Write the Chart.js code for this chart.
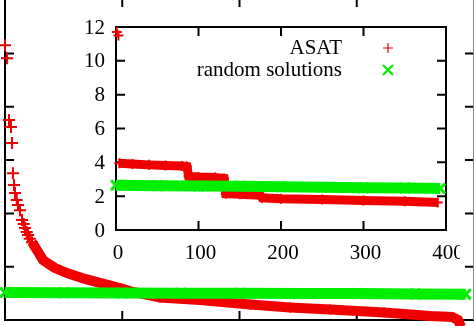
<!DOCTYPE html>
<html>
<head>
<meta charset="utf-8">
<title>ASAT vs random solutions</title>
<script src="https://cdn.jsdelivr.net/npm/chart.js@4.4.0/dist/chart.umd.min.js"></script>
<style>
  html, body { margin: 0; padding: 0; background: #fff; }
  #wrap { position: relative; width: 474px; height: 326px; overflow: hidden; }
  #outer { position: absolute; left: 0; top: -2px; }
  #inset { position: absolute; left: 60px; top: 10px; }
</style>
</head>
<body>
<div id="wrap">
  <canvas id="outer" width="474" height="328"></canvas>
  <canvas id="inset" width="400" height="260"></canvas>
</div>
<script>
(function () {
    'use strict';

    /* ── Full run (outer plot) ── */
    var outerAsatSparseX = [0, 17, 34, 51, 60, 68, 77, 85, 100, 111, 128, 145, 160, 171, 185, 196, 212, 230];
    var outerAsatSparseY = [10.31, 9.82, 7.5, 7.24, 6.64, 5.51, 5.06, 4.76, 4.5, 4.31, 4.12, 3.75,
                            3.6, 3.45, 3.3, 3.19, 3.05, 2.92];
    var outerAsatX = [230, 256, 290, 324, 380, 427, 529, 682, 810, 981, 1092, 1322,
                      1663, 2090, 2431, 2772, 3233, 3625, 3813, 3864, 3890];
    var outerAsatY = [2.92, 2.74, 2.5, 2.25, 2.08, 1.95, 1.76, 1.54, 1.39, 1.2, 1.05, 0.84,
                      0.75, 0.58, 0.47, 0.39, 0.28, 0.15, 0.11, 0.0, -0.26];
    var outerRandomX = [0, 500, 1000, 1500, 2000, 2500, 3000, 3500, 3930];
    var outerRandomY = [1.03, 1.02, 1.01, 1.0, 1.0, 0.99, 0.99, 0.98, 0.97];
    var outerXTicks = [1000, 2000, 3000];
    var outerYTicks = [2, 4, 6, 8, 10];

    /* ── First 400 solutions (inset) ── */
    var insetAsatTopX = [1, 3];
    var insetAsatTopY = [11.7, 11.5];
    var insetAsatX = [4, 20, 40, 60, 80, 86, 88, 100, 120, 131, 133, 150, 175,
                      177, 200, 250, 300, 350, 390];
    var insetAsatY = [3.95, 3.9, 3.85, 3.82, 3.78, 3.75, 3.18, 3.13, 3.1, 3.05, 2.15, 2.12, 2.05,
                      1.9, 1.85, 1.8, 1.75, 1.7, 1.63];
    var insetRandomX = [0, 50, 100, 150, 200, 250, 300, 350, 393];
    var insetRandomY = [2.65, 2.62, 2.6, 2.58, 2.56, 2.53, 2.5, 2.48, 2.45];
    var insetXTicks = [0, 100, 200, 300, 400];
    var insetYTicks = [0, 2, 4, 6, 8, 10, 12];

    var seriesNames = ['ASAT', 'random solutions'];

    var colours = {
        red:   '#f00000',
        green: '#00ee00',
        axis:  '#000'
    };
    var font = '21px "Liberation Serif", "Times New Roman", serif';

    function points(xs, ys) {
        return xs.map(function (x, i) { return { x: x, y: ys[i] }; });
    }

    function marker(ctx, style, x, y, r) {
        ctx.beginPath();
        if (style === 'cross') {
            ctx.moveTo(x - r, y); ctx.lineTo(x + r, y);
            ctx.moveTo(x, y - r); ctx.lineTo(x, y + r);
        } else {
            ctx.moveTo(x - r, y - r); ctx.lineTo(x + r, y + r);
            ctx.moveTo(x - r, y + r); ctx.lineTo(x + r, y - r);
        }
        ctx.stroke();
    }

    /* ── Border with inward ticks on every side, optional tick labels ── */
    var framePlugin = {
        id: 'frame',
        beforeDatasetsDraw: function (chart, args, opts) {
            var ctx = chart.ctx, a = chart.chartArea;
            var xs = chart.scales.x, ys = chart.scales.y;
            var len = opts.tickLength || 10;
            ctx.save();
            ctx.strokeStyle = colours.axis;
            ctx.lineWidth = 2;
            ctx.beginPath();
            if (opts.top)    { ctx.moveTo(a.left - 1, a.top);    ctx.lineTo(a.right + 1, a.top); }
            if (opts.bottom) { ctx.moveTo(a.left - 1, a.bottom); ctx.lineTo(a.right + 1, a.bottom); }
            if (opts.left)   { ctx.moveTo(a.left, a.top);  ctx.lineTo(a.left, a.bottom + 1); }
            if (opts.right)  { ctx.moveTo(a.right, a.top); ctx.lineTo(a.right, a.bottom + 1); }
            opts.xTicks.forEach(function (v) {
                var px = xs.getPixelForValue(v);
                ctx.moveTo(px, a.bottom); ctx.lineTo(px, a.bottom - len);
                ctx.moveTo(px, a.top);    ctx.lineTo(px, a.top + len);
            });
            opts.yTicks.forEach(function (v) {
                var py = ys.getPixelForValue(v);
                ctx.moveTo(a.left, py);  ctx.lineTo(a.left + len, py);
                ctx.moveTo(a.right, py); ctx.lineTo(a.right - len, py);
            });
            ctx.stroke();

            if (opts.rightEdge) {
                ctx.strokeStyle = opts.rightEdge;
                ctx.lineWidth = 1;
                ctx.beginPath();
                ctx.moveTo(a.right - 0.5, a.top);
                ctx.lineTo(a.right - 0.5, a.bottom);
                ctx.stroke();
            }

            if (opts.labels) {
                ctx.fillStyle = colours.axis;
                ctx.font = font;
                ctx.textBaseline = 'middle';
                ctx.textAlign = 'center';
                opts.xTicks.forEach(function (v) {
                    ctx.fillText(String(v), xs.getPixelForValue(v) + 2, a.bottom + 23);
                });
                ctx.textAlign = 'right';
                opts.yTicks.forEach(function (v) {
                    ctx.fillText(String(v), a.left - 11, ys.getPixelForValue(v) + 1);
                });
            }
            ctx.restore();
        }
    };

    /* ── Key inside the inset: text first, sample marker to the right ── */
    var keyPlugin = {
        id: 'key',
        afterDraw: function (chart) {
            var ctx = chart.ctx, a = chart.chartArea;
            var rows = [
                { text: seriesNames[0], colour: colours.red,   style: 'cross',    r: 5,   w: 1.2 },
                { text: seriesNames[1], colour: colours.green, style: 'crossRot', r: 5,   w: 2.2 }
            ];
            ctx.save();
            ctx.font = font;
            ctx.textAlign = 'right';
            ctx.textBaseline = 'middle';
            rows.forEach(function (row, i) {
                var y = a.top + 21 + i * 22;
                ctx.fillStyle = colours.axis;
                ctx.fillText(row.text, a.right - 104, y);
                ctx.strokeStyle = row.colour;
                ctx.lineWidth = row.w;
                marker(ctx, row.style, a.right - 58, y, row.r);
            });
            ctx.restore();
        }
    };

    function band(label, data, colour, style, width, radius, pw, order) {
        return {
            label: label,
            data: data,
            showLine: true,
            borderColor: colour,
            backgroundColor: colour,
            borderWidth: width,
            pointStyle: style,
            pointRadius: radius,
            pointBorderWidth: pw,
            pointBorderColor: colour,
            tension: 0,
            clip: false,
            order: order
        };
    }

    function scatter(label, data, colour, style, radius, pw, order) {
        return {
            label: label,
            data: data,
            showLine: false,
            borderColor: colour,
            backgroundColor: colour,
            pointStyle: style,
            pointRadius: radius,
            pointBorderWidth: pw,
            clip: false,
            order: order
        };
    }

    function baseOptions(xMax, yMax, padding, frame) {
        return {
            responsive: false,
            animation: false,
            events: [],
            layout: { padding: padding, autoPadding: false },
            plugins: {
                legend: { display: false },
                tooltip: { enabled: false },
                frame: frame
            },
            scales: {
                x: { type: 'linear', min: 0, max: xMax, display: false },
                y: { type: 'linear', min: 0, max: yMax, display: false }
            }
        };
    }

    /* ── 1. Outer plot ── */
    new Chart(document.getElementById('outer'), {
        type: 'scatter',
        data: {
            datasets: [
                band(seriesNames[1], points(outerRandomX, outerRandomY), colours.green, 'crossRot', 11, 7, 3, 0),
                band(seriesNames[0], points(outerAsatX, outerAsatY), colours.red, 'cross', 10, 5, 2, 1),
                scatter(seriesNames[0], points(outerAsatSparseX, outerAsatSparseY), colours.red, 'cross', 6, 2, 2)
            ]
        },
        options: baseOptions(4000, 12.08, { left: 5, right: 0, top: 0, bottom: 6 }, {
            xTicks: outerXTicks, yTicks: outerYTicks, tickLength: 9,
            left: true, bottom: true, top: false, right: false,
            rightEdge: '#8a8a8a', labels: false
        }),
        plugins: [framePlugin]
    });

    /* ── 2. Inset: first 400 solutions ── */
    new Chart(document.getElementById('inset'), {
        type: 'scatter',
        data: {
            datasets: [
                band(seriesNames[1], points(insetRandomX, insetRandomY), colours.green, 'crossRot', 11, 7, 3, 0),
                band(seriesNames[0], points(insetAsatX, insetAsatY), colours.red, 'cross', 9, 5, 2, 1),
                scatter(seriesNames[0], points(insetAsatTopX, insetAsatTopY), colours.red, 'cross', 5, 2, 2)
            ]
        },
        options: baseOptions(400, 12, { left: 56, right: 14, top: 17, bottom: 40 }, {
            xTicks: insetXTicks, yTicks: insetYTicks, tickLength: 9,
            left: true, bottom: true, top: true, right: true,
            labels: true
        }),
        plugins: [framePlugin, keyPlugin]
    });
})();
</script>
</body>
</html>
